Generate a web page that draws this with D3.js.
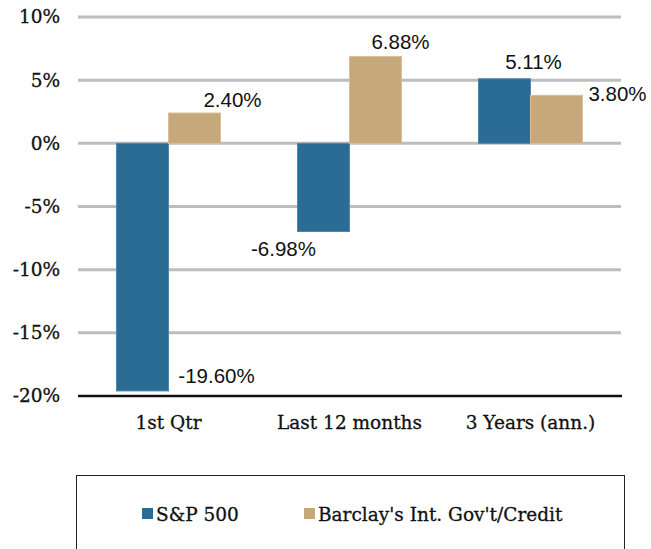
<!DOCTYPE html>
<html>
<head>
<meta charset="utf-8">
<script src="https://cdn.jsdelivr.net/npm/d3@7"></script>
<style>
	body{margin:0;background:#fff;}
	.ylab{font-family:"DejaVu Serif",serif;font-size:18.5px;fill:#111;stroke:#111;stroke-width:0.3px;}
	.xlab{font-family:"DejaVu Serif",serif;font-size:18.5px;fill:#111;stroke:#111;stroke-width:0.3px;}
	.vlab{font-family:"Liberation Sans",Arial,sans-serif;font-size:20.5px;fill:#111;}
	.leg{font-family:"DejaVu Serif",serif;font-size:18.5px;fill:#111;stroke:#111;stroke-width:0.3px;}
</style>
</head>
<body>
<div id="chart"></div>
<script>
var categories=["1st Qtr","Last 12 months","3 Years (ann.)"];
var seriesNames=["S&P 500","Barclay's Int. Gov't/Credit"];
var sp500=[-19.60,-6.98,5.11];
var barclay=[2.40,6.88,3.80];
var yTicks=[-20,-15,-10,-5,0,5,10];

var width=651,height=549;
var padding={left:78,right:30,top:17,bottom:153};
var colorArr=["#2b6c94","#c6a87b"];
var strokeArr=["#4f86aa","#d6bf9c"];
// label placement: [dx from bar centre, dy from bar end]
var labelPos=[
	[[74,-8],[38,-6]],
	[[-40,24],[25,-7]],
	[[29,-10],[61,6]]
];

var svg=d3.select("#chart").append("svg")
	.attr("width",width).attr("height",height);

var x0=d3.scaleBand().domain(categories)
	.range([padding.left,width-padding.right]).padding(0);
var x1=d3.scaleBand().domain(seriesNames)
	.range([0,x0.bandwidth()]).paddingInner(0).paddingOuter(0.74);
var y=d3.scaleLinear().domain([-20,10])
	.range([height-padding.bottom,padding.top]);

// grid lines
svg.append("g").selectAll("line")
	.data(yTicks.filter(function(d){return d!=-20;}))
	.enter().append("line")
	.attr("x1",padding.left).attr("x2",width-padding.right)
	.attr("y1",function(d){return y(d);}).attr("y2",function(d){return y(d);})
	.style("stroke","#bdbdbd").style("stroke-width","3px");

// y labels
svg.append("g").selectAll("text")
	.data(yTicks).enter().append("text")
	.attr("class","ylab")
	.attr("x",padding.left-18)
	.attr("y",function(d){return y(d);})
	.attr("dy","0.35em")
	.attr("text-anchor","end")
	.text(function(d){return d+"%";});

var values=[sp500,barclay];
var barg=svg.append("g");
for(var k=0;k<values.length;k++){
	barg.append("g").selectAll("rect")
		.data(values[k]).enter().append("rect")
		.attr("x",function(d,i){return x0(categories[i])+x1(seriesNames[k]);})
		.attr("y",function(d){return y(Math.max(0,d));})
		.attr("width",x1.bandwidth())
		.attr("height",function(d){return Math.abs(y(d)-y(0));})
		.attr("fill",colorArr[k])
		.attr("stroke",strokeArr[k])
		.attr("stroke-width",1);
}

// bottom axis line
svg.append("line")
	.attr("x1",padding.left).attr("x2",width-padding.right+1)
	.attr("y1",y(-20)).attr("y2",y(-20))
	.style("stroke","#111").style("stroke-width","2.5px");

// value labels
for(var k=0;k<values.length;k++){
	svg.append("g").selectAll("text")
		.data(values[k]).enter().append("text")
		.attr("class","vlab")
		.attr("text-anchor","middle")
		.attr("x",function(d,i){return x0(categories[i])+x1(seriesNames[k])+x1.bandwidth()/2+labelPos[i][k][0];})
		.attr("y",function(d,i){return y(d)+labelPos[i][k][1];})
		.text(function(d){return d.toFixed(2)+"%";});
}

// category labels
svg.append("g").selectAll("text")
	.data(categories).enter().append("text")
	.attr("class","xlab")
	.attr("text-anchor","middle")
	.attr("x",function(d){return x0(d)+x0.bandwidth()/2;})
	.attr("y",y(-20)+33)
	.text(function(d){return d;});

// legend
svg.append("rect")
	.attr("x",76.5).attr("y",475.5)
	.attr("width",548).attr("height",90)
	.attr("fill","none").attr("stroke","#222").attr("stroke-width",1);
var legX=[142,304];
var legend=svg.append("g").selectAll("g")
	.data(seriesNames).enter().append("g")
	.attr("transform",function(d,i){return "translate("+legX[i]+",508)";});
legend.append("rect")
	.attr("width",11).attr("height",11)
	.attr("fill",function(d,i){return colorArr[i];});
legend.append("text")
	.attr("class","leg")
	.attr("x",14).attr("y",12.5)
	.text(function(d){return d;});
</script>
</body>
</html>
